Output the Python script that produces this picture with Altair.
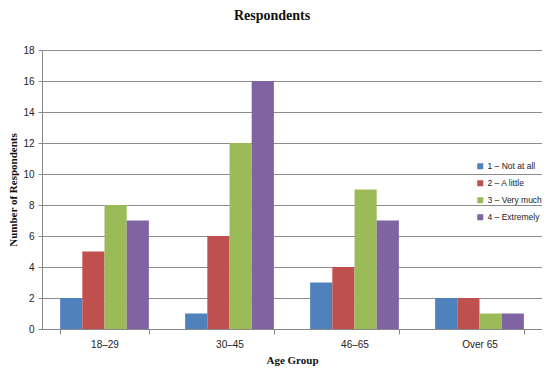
import altair as alt
import pandas as pd

age_groups = ["18–29", "30–45", "46–65", "Over 65"]
responses = ["1 – Not at all", "2 – A little", "3 – Very much", "4 – Extremely"]
not_at_all = [2, 1, 3, 2]
a_little = [5, 6, 4, 2]
very_much = [8, 12, 9, 1]
extremely = [7, 16, 7, 1]
colors = ["#4F81BD", "#C0504D", "#9BBB59", "#8064A2"]

rows = []
for series, vals in zip(responses, [not_at_all, a_little, very_much, extremely]):
    for g, v in zip(age_groups, vals):
        rows.append({"Age Group": g, "Response": series, "Count": v})
df = pd.DataFrame(rows)

serif = "Liberation Serif"
sans = "Liberation Sans"

chart = alt.Chart(df).mark_bar(opacity=1).encode(
    x=alt.X("Age Group:N", sort=age_groups, title="Age Group",
            scale=alt.Scale(paddingInner=0.29, paddingOuter=0.145),
            axis=alt.Axis(labelAngle=0, tickBand="extent", grid=False,
                          domainColor="#888888", tickColor="#888888",
                          labelFont=sans, labelFontSize=10, labelColor="#222222",
                          labelPadding=5, titleFont=serif, titleFontSize=11,
                          titleFontWeight="bold", titlePadding=5, titleColor="#111111")),
    xOffset=alt.XOffset("Response:N", sort=responses),
    y=alt.Y("Count:Q", title="Number of Respondents",
            scale=alt.Scale(domain=[0, 18], nice=False),
            axis=alt.Axis(values=list(range(0, 19, 2)), domainColor="#888888",
                          tickColor="#888888", tickSize=4, gridColor="#8c8c8c",
                          gridWidth=1, labelFont=sans, labelFontSize=10,
                          labelColor="#222222", labelPadding=4,
                          titleFont=serif, titleFontSize=11, titleFontWeight="bold",
                          titlePadding=4, titleColor="#111111")),
    color=alt.Color("Response:N", sort=responses,
                    scale=alt.Scale(domain=responses, range=colors),
                    legend=alt.Legend(title=None, orient="none", legendX=434,
                                      legendY=112, symbolType="square",
                                      symbolSize=36, labelFont=sans,
                                      labelFontSize=8.5, labelColor="#222222",
                                      labelOffset=3, rowPadding=8,
                                      symbolStrokeWidth=0)),
).properties(
    width=500, height=279,
    title=alt.TitleParams("Respondents", font=serif, fontSize=14,
                          fontWeight="bold", color="#111111", offset=22, dx=-20),
    padding={"left": 34, "top": 42, "right": 0, "bottom": 38},
    autosize=alt.AutoSizeParams(type="none"),
).configure_view(stroke=None).configure_axis(domainWidth=1)

chart.save("out.html", embed_options={"renderer": "svg", "actions": False})
